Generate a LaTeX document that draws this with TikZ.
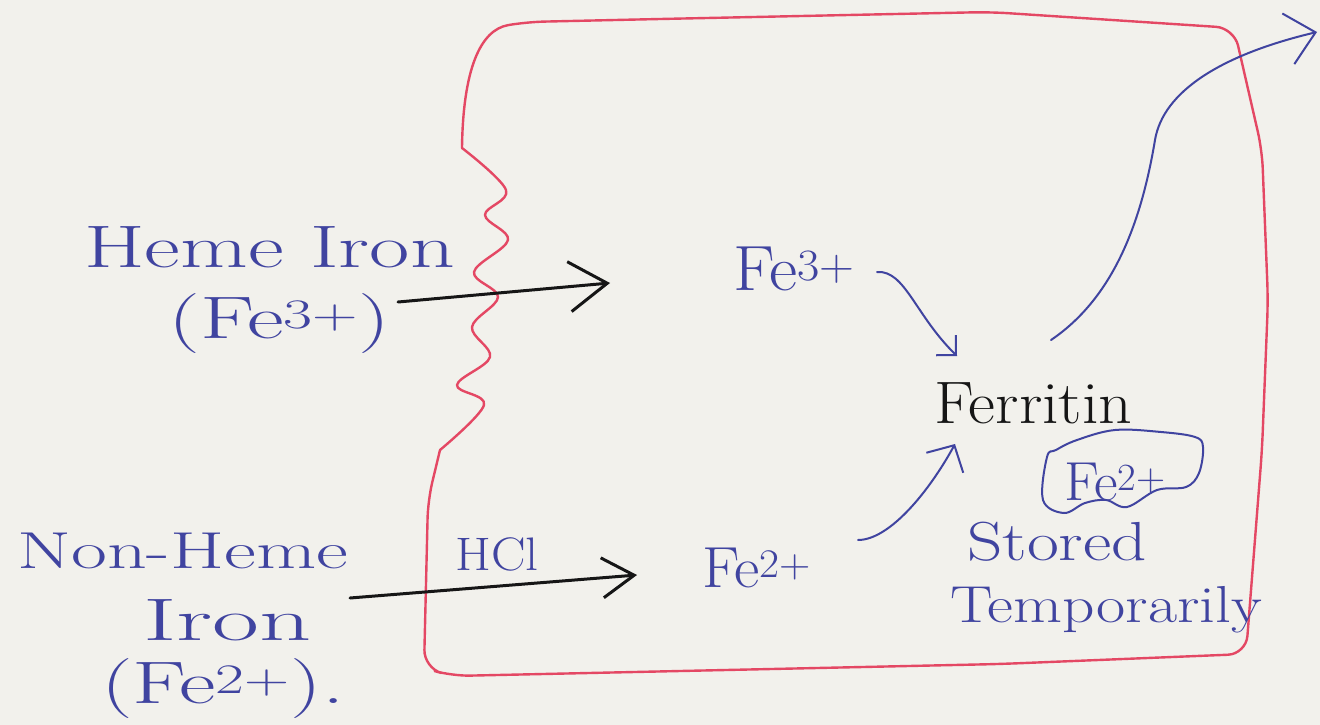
\documentclass[tikz,border=0pt]{standalone}
\usepackage{fontspec}
\usepackage{graphicx}
\usetikzlibrary{arrows.meta}
\definecolor{paper}{RGB}{242,241,236}
\definecolor{inkblue}{RGB}{64,68,160}
\definecolor{inkblack}{RGB}{22,22,22}
\definecolor{redink}{RGB}{228,72,100}
\newcommand{\fsz}[1]{\fontsize{#1}{#1}\selectfont}
\tikzset{
  txt/.style={text=inkblue, inner sep=0pt, anchor=base west},
  redline/.style={draw=redink, line width=2.4pt, line join=round, line cap=round},
  blackarrow/.style={draw=inkblack, line width=3pt, line cap=round, line join=round},
  bluearrow/.style={draw=inkblue, line width=2pt, line cap=round, line join=round},
}
\begin{document}
\begin{tikzpicture}[x=1pt,y=-1pt]
\fill[paper] (0,0) rectangle (1320,725);
\useasboundingbox (0,0) rectangle (1320,725);

% red cell boundary
\draw[redline, rounded corners=18pt] (440,450) -- (428,500) -- (424,668) -- (452,676)
  -- (1000,664) -- (1246,654) -- (1262,450) -- (1268,300) -- (1262,150) -- (1234,28)
  -- (990,12) -- (660,19) -- (526,22) .. controls (480,30) and (463,70) .. (462,148);
\draw[redline] plot[smooth, tension=0.6] coordinates {(462,148) (506,190) (485,215) (508,240)
  (474,272) (498,297) (472,327) (490,357) (457,385) (484,405) (440,450)};

% texts
\node[txt, font=\fsz{60}] (heme) at (84,267) {\scalebox{1.46}[1]{Heme Iron}};
\node[txt, font=\fsz{60}] (hemefe) at (168,338) {\scalebox{1.5}[1]{(Fe\textsuperscript{3+})}};
\node[txt, font=\fsz{64}] (fe3) at (733,290) {\scalebox{1.08}[1]{Fe\textsuperscript{3+}}};
\node[txt, font=\fsz{60}, text=inkblack] (ferritin) at (934,423) {\scalebox{1.1}[1]{Ferritin}};
\node[txt, font=\fsz{55}] (fe2c) at (1064,500) {\scalebox{1.05}[1]{Fe\textsuperscript{2+}}};
\node[txt, font=\fsz{55}] (stored) at (967,560) {\scalebox{1.26}[1]{Stored}};
\node[txt, font=\fsz{52}] (temp) at (950,622) {\scalebox{1.22}[1]{Temporarily}};
\node[txt, font=\fsz{58}] (fe2) at (702,587) {\scalebox{1.07}[1]{Fe\textsuperscript{2+}}};
\node[txt, font=\fsz{47}] (hcl) at (455,570) {\scalebox{1.1}[1]{HCl}};
\node[txt, font=\fsz{52}] (nonheme) at (17,568) {\scalebox{1.5}[1]{Non-Heme}};
\node[txt, font=\fsz{60}] (iron2) at (143,640) {\scalebox{1.7}[1]{Iron}};
\node[txt, font=\fsz{60}] (nhfe) at (101,703) {\scalebox{1.49}[1]{(Fe\textsuperscript{2+}).}};

% cloud around stored Fe2+
\draw[bluearrow] plot[smooth cycle, tension=0.6] coordinates {(1047,457) (1043,500) (1064,513)
  (1085,503) (1106,500) (1127,507) (1157,490) (1186,487) (1199,473) (1203,447) (1195,437)
  (1161,432) (1115,430) (1077,440) (1056,450)};

% connector end points
\coordinate (a1) at (398,302);
\coordinate (a2) at (610,283);
\coordinate (b1) at (350,598);
\coordinate (b2) at (637,575);
\coordinate (c1) at (877,272);
\coordinate (c2) at (957,356);
\coordinate (d1) at (858,540);
\coordinate (d2) at (955,444);
\coordinate (e1) at (1051,340);
\coordinate (e2) at (1155,140);
\coordinate (e3) at (1317,32);

% black arrows across the membrane
\draw[blackarrow, -{Straight Barb[length=38pt,width=50pt]}] (a1) -- (a2);
\draw[blackarrow, -{Straight Barb[length=32pt,width=40pt]}] (b1) -- (b2);

% blue arrows
\draw[bluearrow, -{Straight Barb[length=14pt,width=28pt]}] (c1) .. controls (905,270) and (915,315) .. (c2);
\draw[bluearrow, -{Straight Barb[length=20pt,width=42pt]}] (d1) .. controls (890,540) and (930,490) .. (d2);
\draw[bluearrow, -{Straight Barb[length=28pt,width=52pt]}] (e1) .. controls (1110,300) and (1140,230) .. (e2)
  .. controls (1163,92) and (1220,55) .. (e3);
\end{tikzpicture}
\end{document}
